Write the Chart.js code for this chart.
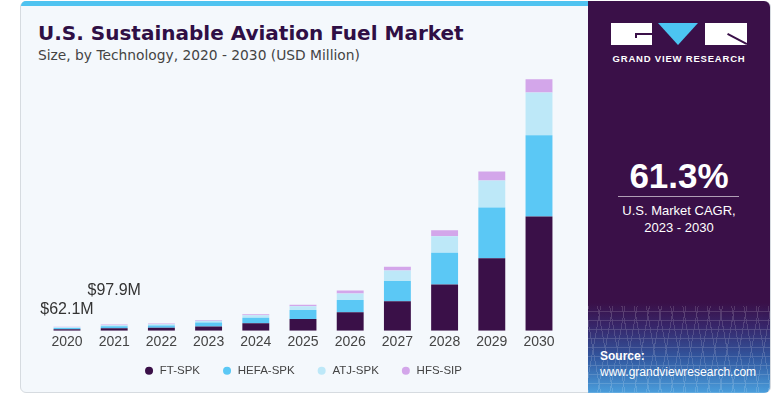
<!DOCTYPE html>
<html><head><meta charset="utf-8">
<script src="https://cdn.jsdelivr.net/npm/chart.js@4.4.1/dist/chart.umd.min.js"></script>
<style>
html,body{margin:0;padding:0;background:#fff;width:784px;height:397px;overflow:hidden;font-family:"Liberation Sans",Arial,sans-serif;}
.abs{position:absolute;}
#card{left:20px;top:1px;width:749px;height:390px;border:1px solid #d6dbe0;border-radius:6px;background:#f4f8fc;overflow:hidden;}
#strip{left:21px;top:1px;width:567px;height:5px;background:#4fc3f0;border-top-left-radius:6px;}
#title{left:38px;top:21px;font-family:"DejaVu Sans",sans-serif;font-size:20px;font-weight:bold;color:#2f0f45;white-space:nowrap;}
#sub{left:38px;top:47px;font-family:"DejaVu Sans",sans-serif;font-size:13.8px;color:#444;white-space:nowrap;}
#panel{left:588px;top:1px;width:182px;height:392px;border-top-right-radius:6px;border-bottom-right-radius:6px;overflow:hidden;
 background:linear-gradient(to bottom,#3a1048 0%,#3a1048 77%,#37266a 83%,#31579f 91%,#4a9edc 100%);}
#grid{left:0;top:305px;width:182px;height:87px;opacity:0.18;
 background:repeating-linear-gradient(80deg,rgba(255,255,255,0.8) 0 1px,transparent 1px 12px),repeating-linear-gradient(100deg,rgba(255,255,255,0.8) 0 1px,transparent 1px 12px),repeating-linear-gradient(0deg,rgba(255,255,255,0.8) 0 1px,transparent 1px 9px);}
.w{color:#fff;}
#chartc{left:20px;top:60px;}
</style></head>
<body>
<div id="card" class="abs"></div>
<div id="strip" class="abs"></div>
<div id="title" class="abs">U.S. Sustainable Aviation Fuel Market</div>
<div id="sub" class="abs">Size, by Technology, 2020 - 2030 (USD Million)</div>
<div id="panel" class="abs">
  <div id="grid" class="abs"></div>
  <div class="abs" style="left:23px;top:22px;width:41px;height:22px;background:#fff;"></div>
  <div class="abs" style="left:47px;top:32px;width:17px;height:2px;background:#3a1048;"></div>
  <div class="abs" style="left:47px;top:32px;width:2px;height:5px;background:#3a1048;"></div>
  <div class="abs" style="left:70px;top:22px;width:0;height:0;border-left:20px solid transparent;border-right:20px solid transparent;border-top:22px solid #4cc5f2;"></div>
  <div class="abs" style="left:117px;top:22px;width:42px;height:22px;background:#fff;"></div>
  <div class="abs" style="left:140px;top:32px;width:22px;height:2px;background:#3a1048;transform:rotate(28deg);transform-origin:0 0;"></div>
  <div class="abs w" style="left:0;top:52px;width:182px;text-align:center;font-size:9.5px;font-weight:bold;letter-spacing:0.8px;">GRAND VIEW RESEARCH</div>
  <div class="abs w" style="left:0;top:155px;width:182px;text-align:center;font-size:35px;font-weight:bold;">61.3%</div>
  <div class="abs" style="left:30px;top:195px;width:121px;height:1px;background:rgba(255,255,255,0.6);"></div>
  <div class="abs w" style="left:0;top:202px;width:182px;text-align:center;font-size:13px;">U.S. Market CAGR,</div>
  <div class="abs w" style="left:0;top:219px;width:182px;text-align:center;font-size:13px;">2023 - 2030</div>
  <div class="abs w" style="left:12px;top:348px;font-size:12px;font-weight:bold;">Source:</div>
  <div class="abs w" style="left:12px;top:364px;font-size:12px;">www.grandviewresearch.com</div>
</div>
<canvas id="chartc" class="abs" width="567" height="337"></canvas>
<script>
const years = ['2020','2021','2022','2023','2024','2025','2026','2027','2028','2029','2030'];
const ftSpk   = [24, 38, 45, 66, 117, 187, 293, 469, 736, 1152, 1818];
const hefaSpk = [20, 32, 38, 64, 91, 144, 197, 320, 506, 810, 1291];
const atjSpk  = [10, 15, 18, 27, 37, 58, 102, 171, 262, 427, 683];
const hfsSip  = [8.1, 12.9, 14, 13, 16, 22, 48, 58, 96, 144, 208];
const seriesNames = ['FT-SPK','HEFA-SPK','ATJ-SPK','HFS-SIP'];
const seriesColors = ['#3a1048','#5bc8f5','#bde8f8','#d3a6ea'];
const labelIndex = [0, 1];
const labelText = ['$62.1M', '$97.9M'];
const labelLift = [17, 34];

const seriesData = [ftSpk, hefaSpk, atjSpk, hfsSip];
const totals = years.map((_, i) => seriesData.reduce((s, a) => s + a[i], 0));
const FONT = '"Liberation Sans", Arial, sans-serif';

const valueLabels = {
  id: 'valueLabels',
  afterLayout(chart) {
    const lg = chart.legend;
    if (lg) { lg.top -= 10.5; lg.bottom -= 10.5; }
  },
  afterDatasetsDraw(chart) {
    const ctx = chart.ctx, xs = chart.scales.x, ys = chart.scales.y;
    ctx.save();
    ctx.font = '16px ' + FONT;
    ctx.fillStyle = '#333';
    ctx.textAlign = 'center';
    ctx.textBaseline = 'middle';
    labelIndex.forEach((idx, k) => {
      const x = xs.getPixelForValue(idx);
      const y = ys.getPixelForValue(totals[idx]) - labelLift[k];
      ctx.fillText(labelText[k], x, y);
    });
    ctx.restore();
  }
};

new Chart(document.getElementById('chartc'), {
  type: 'bar',
  data: {
    labels: years,
    datasets: seriesData.map((d, i) => ({
      label: seriesNames[i], data: d, backgroundColor: seriesColors[i],
      borderWidth: 0, categoryPercentage: 1, barPercentage: 0.57
    }))
  },
  options: {
    responsive: false, animation: false,
    layout: { padding: { left: 23.4, right: 24.4, top: 0, bottom: 0 } },
    scales: {
      x: { stacked: true, grid: { display: false, drawTicks: false }, border: { display: false },
           ticks: { color: '#444', padding: 3, font: { size: 14, family: FONT } } },
      y: { stacked: true, display: false, min: 0, max: 4308 }
    },
    plugins: {
      legend: { position: 'bottom', labels: { usePointStyle: true, pointStyle: 'circle', boxWidth: 10, boxHeight: 5.66,
                padding: 22, color: '#444', font: { size: 11.5, family: FONT } } },
      tooltip: { enabled: false }
    }
  },
  plugins: [valueLabels]
});
</script>
</body></html>
